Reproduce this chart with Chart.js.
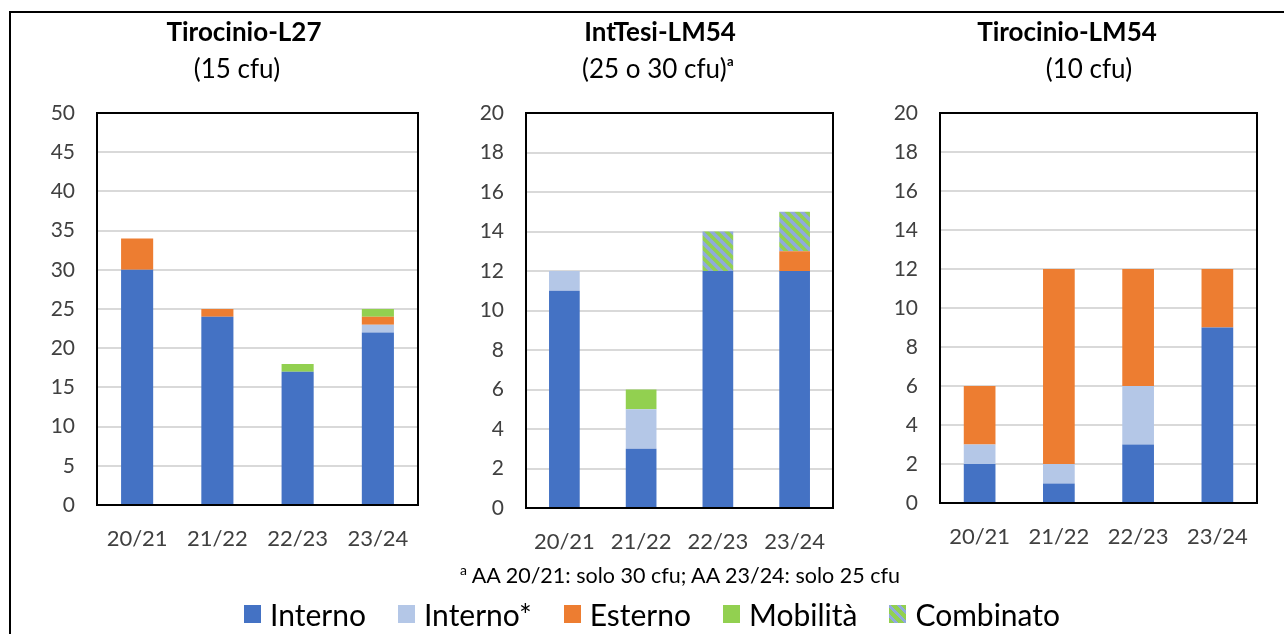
<!DOCTYPE html>
<html>
<head>
<meta charset="utf-8">
<script src="https://cdn.jsdelivr.net/npm/chart.js@4.4.1/dist/chart.umd.min.js"></script>
<style>
  body { margin: 0; background: #fff; width: 1284px; height: 634px; overflow: hidden; position: relative; font-family: Lato, sans-serif; }
  .frame { position: absolute; left: 9px; top: 11px; width: 1400px; height: 800px; border: 2px solid #000; }
  .panel { position: absolute; top: 0; height: 600px; }
  .note { position: absolute; left: 0; width: 1360px; top: 561px; text-align: center; font-size: 21.5px; color: #000; }
  .note sup { font-size: 14px; }
  .legend { position: absolute; left: 0; width: 1304px; top: 596px; display: flex; justify-content: center; gap: 32px; font-size: 30px; color: #000; }
  .legend span { display: flex; align-items: center; }
  .legend i { display: inline-block; width: 17px; height: 18px; margin-right: 9px; }
</style>
</head>
<body>
<div class="frame"></div>
<div class="panel" style="left:30px;width:430px"><canvas id="c1"></canvas></div>
<div class="panel" style="left:470px;width:380px"><canvas id="c2"></canvas></div>
<div class="panel" style="left:870px;width:396px"><canvas id="c3"></canvas></div>
<div class="note"><sup>a</sup> AA 20/21: solo 30 cfu; AA 23/24: solo 25 cfu</div>
<div class="legend">
  <span><i style="background:#4472C4"></i>Interno</span>
  <span><i style="background:#B4C7E7"></i>Interno*</span>
  <span><i style="background:#ED7D31"></i>Esterno</span>
  <span><i style="background:#92D050"></i>Mobilità</span>
  <span><i style="background:repeating-linear-gradient(45deg,#92D050 0 4px,#8FAADC 4px 7px)"></i>Combinato</span>
</div>
<script>
// Data
const years = ['20/21', '21/22', '22/23', '23/24'];
const seriesNames = ['Interno', 'Interno*', 'Esterno', 'Mobilità', 'Combinato'];

const l27Interno = [30, 24, 17, 22];
const l27InternoStar = [0, 0, 0, 1];
const l27Esterno = [4, 1, 0, 1];
const l27Mobilita = [0, 0, 1, 1];
const l27Combinato = [0, 0, 0, 0];

const tesiInterno = [11, 3, 12, 12];
const tesiInternoStar = [1, 2, 0, 0];
const tesiEsterno = [0, 0, 0, 1];
const tesiMobilita = [0, 1, 0, 0];
const tesiCombinato = [0, 0, 2, 2];

const lm54Interno = [2, 1, 3, 9];
const lm54InternoStar = [1, 1, 3, 0];
const lm54Esterno = [3, 10, 6, 3];
const lm54Mobilita = [0, 0, 0, 0];
const lm54Combinato = [0, 0, 0, 0];

// Striped fill for "Combinato"
function makeStripes() {
    const s = 10;
    const c = document.createElement('canvas');
    c.width = s; c.height = s;
    const g = c.getContext('2d');
    g.fillStyle = '#92D050';
    g.fillRect(0, 0, s, s);
    g.strokeStyle = '#8FAADC';
    g.lineWidth = 3.5;
    for (let k = -1; k <= 1; k++) {
        g.beginPath();
        g.moveTo(-s, -s + k * s);
        g.lineTo(2 * s, 2 * s + k * s);
        g.stroke();
    }
    return g.createPattern(c, 'repeat');
}
const stripes = makeStripes();
const colors = ['#4472C4', '#B4C7E7', '#ED7D31', '#92D050', stripes];

Chart.defaults.font.family = 'Lato';
Chart.defaults.color = '#404040';

// black box round the plot area
const plotBorder = {
    id: 'plotBorder',
    afterDraw(chart) {
        const a = chart.chartArea;
        const ctx = chart.ctx;
        ctx.save();
        ctx.strokeStyle = '#000';
        ctx.lineWidth = 2;
        ctx.strokeRect(a.left, a.top, a.right - a.left, a.bottom - a.top);
        ctx.restore();
    }
};

// two-line heading, each line centred at its own x
const panelTitle = {
    id: 'panelTitle',
    afterDraw(chart, args, opts) {
        const ctx = chart.ctx;
        ctx.save();
        ctx.fillStyle = '#000';
        ctx.textAlign = 'center';
        ctx.textBaseline = 'middle';
        ctx.font = 'bold 26px Lato';
        ctx.fillText(opts.title, opts.titleX, 33);
        ctx.font = '26px Lato';
        ctx.fillText(opts.subtitle, opts.subtitleX, 70);
        ctx.restore();
    }
};

function makeChart(id, head, values, yMax, yStep, axisWidth, padRight, padBottom) {
    new Chart(document.getElementById(id), {
        type: 'bar',
        data: {
            labels: years,
            datasets: values.map((v, i) => ({
                label: seriesNames[i],
                data: v,
                backgroundColor: colors[i],
                borderWidth: 0,
                categoryPercentage: 1,
                barPercentage: 0.4
            }))
        },
        plugins: [plotBorder, panelTitle],
        options: {
            responsive: true,
            maintainAspectRatio: false,
            animation: false,
            layout: { padding: { top: 113, left: 0, right: padRight, bottom: padBottom } },
            plugins: {
                legend: { display: false },
                tooltip: { enabled: false },
                panelTitle: head
            },
            scales: {
                x: {
                    stacked: true,
                    grid: { display: false },
                    border: { display: false },
                    ticks: { font: { size: 22 }, padding: 13 },
                    afterFit(scale) { scale.height = 50; }
                },
                y: {
                    stacked: true,
                    min: 0,
                    max: yMax,
                    ticks: { stepSize: yStep, font: { size: 21 }, padding: 22 },
                    grid: { color: '#D9D9D9', lineWidth: 2, drawTicks: false },
                    border: { display: false },
                    afterFit(scale) { scale.width = axisWidth; }
                }
            }
        }
    });
}

makeChart('c1', { title: 'Tirocinio-L27', subtitle: '(15 cfu)', titleX: 214, subtitleX: 207 },
    [l27Interno, l27InternoStar, l27Esterno, l27Mobilita, l27Combinato], 50, 5, 67, 42, 45);
makeChart('c2', { title: 'IntTesi-LM54', subtitle: '(25 o 30 cfu)ᵃ', titleX: 190, subtitleX: 188 },
    [tesiInterno, tesiInternoStar, tesiEsterno, tesiMobilita, tesiCombinato], 20, 2, 56, 17, 42);
makeChart('c3', { title: 'Tirocinio-LM54', subtitle: '(10 cfu)', titleX: 197, subtitleX: 219 },
    [lm54Interno, lm54InternoStar, lm54Esterno, lm54Mobilita, lm54Combinato], 20, 2, 70, 9, 47);
</script>
</body>
</html>
